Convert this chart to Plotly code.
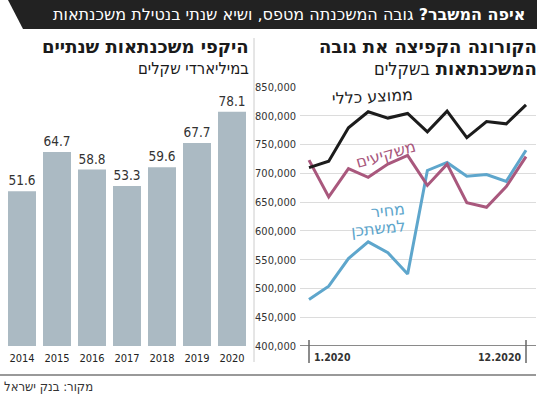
import plotly.graph_objects as go

W, H = 550, 395

# ---- data ----
years = ["2014", "2015", "2016", "2017", "2018", "2019", "2020"]
volumes = [51.6, 64.7, 58.8, 53.3, 59.6, 67.7, 78.1]

months = [1, 2, 3, 4, 5, 6, 7, 8, 9, 10, 11, 12]
avg_all = [710000, 721000, 779000, 807000, 796000, 804000, 772000, 808000, 762000, 790000, 786000, 819000]
investors = [723000, 659000, 708000, 693000, 716000, 731000, 679000, 716000, 649000, 641000, 677000, 729000]
mechir = [481000, 504000, 552000, 581000, 562000, 525000, 705000, 719000, 695000, 698000, 686000, 740000]

y_ticks = [400000, 450000, 500000, 550000, 600000, 650000, 700000, 750000, 800000, 850000]
y_ticktext = [f"{v:,}" for v in y_ticks]

NUM = "DejaVu Sans Condensed, sans-serif"
HEB = "DejaVu Sans, sans-serif"
HEBC = "DejaVu Sans Condensed, DejaVu Sans, sans-serif"

def px(x):
    return x / W

def py(y):
    return (H - y) / H

fig = go.Figure()

# bar chart
fig.add_trace(go.Bar(
    x=years, y=volumes, xaxis="x", yaxis="y",
    marker=dict(color="#abbac3", line=dict(width=0)),
    text=[f"{v:.1f}" for v in volumes], textposition="outside",
    textfont=dict(family=NUM, size=13.5, color="#333333"),
    cliponaxis=False, showlegend=False, hoverinfo="skip",
))

# lines
for vals, col in [(mechir, "#5ea6cc"), (investors, "#a9587d"), (avg_all, "#1c1c1c")]:
    fig.add_trace(go.Scatter(
        x=months, y=vals, xaxis="x2", yaxis="y2", mode="lines",
        line=dict(color=col, width=3), showlegend=False, hoverinfo="skip",
        cliponaxis=False,
    ))

fig.update_layout(
    width=W, height=H,
    margin=dict(l=0, r=0, t=0, b=0, autoexpand=False),
    paper_bgcolor="white", plot_bgcolor="white",
    bargap=0.2,
    xaxis=dict(domain=[px(4.5), px(249.5)], showgrid=False, zeroline=False, showline=False,
               ticks="", tickfont=dict(family=NUM, size=11, color="#222222"),
               ticklabelstandoff=4, automargin=False),
    yaxis=dict(domain=[py(346), py(91)], range=[0, 85], visible=False),
    xaxis2=dict(domain=[px(300), px(536)], range=[0.544, 12.507], showgrid=False,
                zeroline=False, showline=False, showticklabels=False, ticks="", automargin=False),
    yaxis2=dict(domain=[py(346), py(87)], range=[400000, 850000], anchor="x2",
                tickvals=y_ticks, ticktext=y_ticktext, showgrid=True,
                gridcolor="#dcdcdc", gridwidth=1, zeroline=False, showline=False,
                ticks="", tickfont=dict(family=NUM, size=11, color="#333333"),
                ticklabelstandoff=3, automargin=False),
)

shapes = []
# title bar
shapes.append(dict(type="path", xref="paper", yref="paper",
                   path=f"M {px(8)} {py(0)} L {px(537)} {py(0)} L {px(537)} {py(29)} L {px(23)} {py(29)} Z",
                   fillcolor="#222222", line=dict(width=0), layer="below"))
# baseline of line chart
shapes.append(dict(type="line", xref="x2 domain", yref="y2", x0=0, x1=1, y0=400000, y1=400000,
                   line=dict(color="#8a8a8a", width=2)))
# month tick marks
for m in (1, 12):
    shapes.append(dict(type="line", xref="x2", yref="paper", x0=m, x1=m, y0=py(363), y1=py(340),
                       line=dict(color="#666666", width=1.5)))
# separator
shapes.append(dict(type="line", xref="paper", yref="paper", x0=px(254), x1=px(254), y0=py(38), y1=py(362),
                   line=dict(color="#cccccc", width=1)))
# bottom rule
shapes.append(dict(type="line", xref="paper", yref="paper", x0=0, x1=px(536), y0=py(375), y1=py(375),
                   line=dict(color="#777777", width=1.5)))
fig.update_layout(shapes=shapes)

ann = []
def add(text, x, y, size, color, family=HEB, xanchor="center", yanchor="middle", angle=0, xref="paper",
        xshift=0, pad=1):
    ann.append(dict(xref=xref, yref="paper", x=x, y=y, xanchor=xanchor, yanchor=yanchor,
                    text=text, showarrow=False, textangle=angle, xshift=xshift, borderpad=pad,
                    font=dict(family=family, size=size, color=color)))

# title
add("<b>איפה המשבר?</b> גובה המשכנתה מטפס, ושיא שנתי בנטילת משכנתאות", px(527), py(15), 16, "white",
    xanchor="right")
# right header
add("<b>הקורונה הקפיצה את גובה</b>", px(538), py(47), 18, "#1a1a1a", xanchor="right", pad=0)
add("<b>המשכנתאות</b> <span style='font-family:DejaVu Sans Condensed'>בשקלים</span>",
    px(538), py(68.5), 18, "#1a1a1a", xanchor="right", pad=0)
# left header
add("<b>היקפי משכנתאות שנתיים</b>", px(250), py(47), 18, "#1a1a1a", xanchor="right", pad=0)
add("במיליארדי שקלים", px(250), py(68), 16.5, "#1a1a1a", family=HEBC, xanchor="right", pad=0)
# series labels
add("ממוצע כללי", px(372), py(97), 16, "#1c1c1c", angle=-3)
add("משקיעים", px(385), py(154), 16, "#a9587d", angle=-16)
add("מחיר", px(388), py(211), 16, "#5ea6cc", angle=-6)
add("למשתכן", px(378), py(228), 16, "#5ea6cc", angle=-6)
# month labels
add("<b>1.2020</b>", 1, py(357), 10.5, "#333333", family=NUM, xanchor="left", xref="x2", xshift=3)
add("<b>12.2020</b>", 12, py(357), 10.5, "#333333", family=NUM, xanchor="right", xref="x2", xshift=-3)
# source
add("מקור: בנק ישראל", px(2), py(386), 13, "#333333", family=HEBC, xanchor="left")
fig.update_layout(annotations=ann)

fig.write_html("out.html", config={"displayModeBar": False},
               post_script="document.body.style.margin='0';document.body.style.overflow='hidden';")
